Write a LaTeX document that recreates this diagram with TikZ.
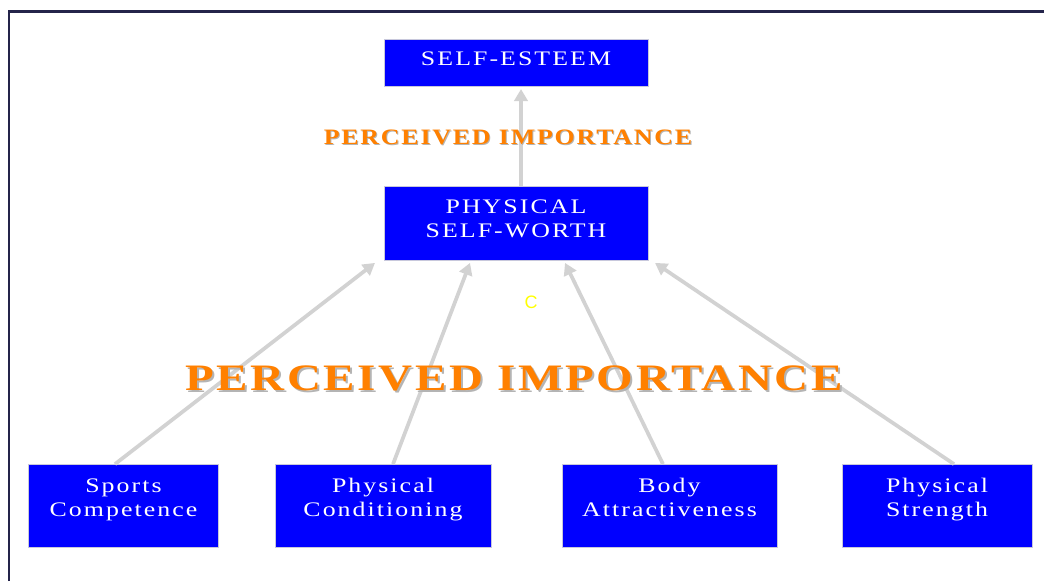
\documentclass[tikz,border=0pt]{standalone}
\usepackage{fontspec}
\setmainfont{Liberation Serif}
\newfontfamily\boxfont{Liberation Serif}[LetterSpace=10,FakeStretch=1.25]
\newfontfamily\headfont{Liberation Serif}[LetterSpace=7,FakeStretch=1.26]
\newfontfamily\subheadfont{Liberation Serif}[LetterSpace=8,FakeStretch=1.18]
\newfontfamily\markfont{Liberation Sans}
\usetikzlibrary{arrows.meta}
\definecolor{boxblue}{HTML}{0000FF}
\definecolor{boxedge}{HTML}{C8C8DC}
\definecolor{linkgrey}{HTML}{D2D2D2}
\definecolor{frameink}{HTML}{24244A}
\definecolor{accent}{HTML}{FF8000}
\definecolor{shade}{HTML}{B4B4B4}
\definecolor{markyellow}{HTML}{FFFF00}
\begin{document}
\begin{tikzpicture}[x=0.75pt,y=-0.75pt,
  box/.style={draw=boxedge, line width=0.6pt, fill=boxblue, inner sep=0pt},
  boxtext/.style={text=white, align=center, inner sep=0pt,
    font=\boxfont\fontsize{15.5}{18}\selectfont},
  link/.style={draw=linkgrey, line width=2.8pt,
    -{Triangle[length=9pt,width=10pt]}},
  bigbanner/.style={inner sep=0pt, font=\headfont\bfseries\fontsize{28}{30}\selectfont},
  smallbanner/.style={inner sep=0pt, font=\subheadfont\bfseries\fontsize{16.5}{20}\selectfont},
  ]
\useasboundingbox (0,0) rectangle (1044,581);
% outer frame (left and top edges)
\draw[frameink, line width=1.6pt] (9,581) -- (9,11.5) -- (1044,11.5);

% boxes
\node[box, minimum width=198pt, minimum height=35.25pt,
  label={[boxtext, yshift=1.7pt]center:SELF-ESTEEM\strut}] (se) at (516,62.5) {};
\node[box, minimum width=198pt, minimum height=55.5pt,
  label={[boxtext, yshift=2pt]center:PHYSICAL\strut\\SELF-WORTH\strut}] (psw) at (516,223.5) {};
\node[box, minimum width=142.5pt, minimum height=62.25pt,
  label={[boxtext, yshift=4.5pt]center:Sports\strut\\Competence\strut}] (sc) at (123.5,506) {};
\node[box, minimum width=162pt, minimum height=62.25pt,
  label={[boxtext, yshift=4.5pt]center:Physical\strut\\Conditioning\strut}] (pc) at (383,506) {};
\node[box, minimum width=161.25pt, minimum height=62.25pt,
  label={[boxtext, yshift=4.5pt]center:Body\strut\\Attractiveness\strut}] (ba) at (669.5,506) {};
\node[box, minimum width=142.5pt, minimum height=62.25pt,
  label={[boxtext, yshift=4.5pt]center:Physical\strut\\Strength\strut}] (ps) at (937,506) {};

% connectors
\draw[link, shorten >=2pt] ([xshift=3.75pt]psw.north) -- ([xshift=3.75pt]se.south);
\draw[link] ([xshift=-6.4pt]sc.north) -- ([xshift=-105.75pt,yshift=-1.5pt]psw.south);
\draw[link] ([xshift=7.5pt]pc.north) -- ([xshift=-34.5pt,yshift=-1.5pt]psw.south);
\draw[link] ([xshift=-4.9pt]ba.north) -- ([xshift=36.75pt,yshift=-1.5pt]psw.south);
\draw[link] ([xshift=12.75pt]ps.north) -- ([xshift=104.25pt,yshift=-1.5pt]psw.south);

% banners
\node[smallbanner, text=shade] (pi1s) at (509,138.5) {PERCEIVED IMPORTANCE};
\node[smallbanner, text=accent] (pi1) at (508,137.5) {PERCEIVED IMPORTANCE};
\node[bigbanner, text=shade] (pi2s) at (516,380) {PERCEIVED IMPORTANCE};
\node[bigbanner, text=accent] (pi2) at (514,378) {PERCEIVED IMPORTANCE};

\node[text=markyellow, inner sep=0pt, font=\markfont\fontsize{13.5}{14}\selectfont] (mark) at (531,302) {C};
\end{tikzpicture}
\end{document}
